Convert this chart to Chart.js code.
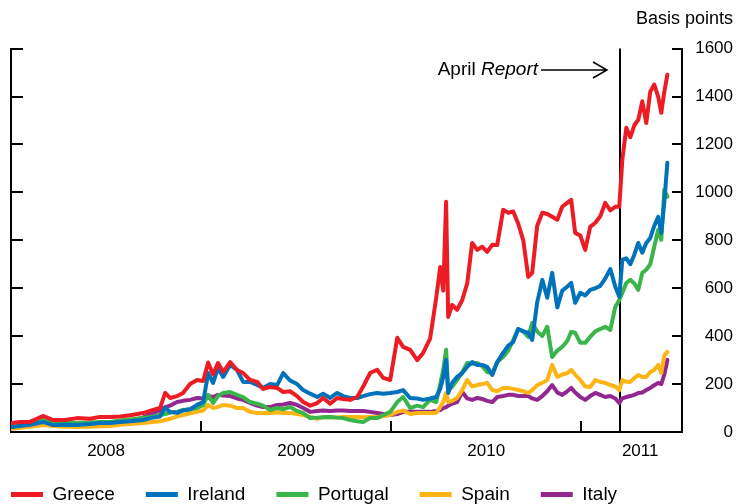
<!DOCTYPE html>
<html>
<head>
<meta charset="utf-8">
<script src="https://cdn.jsdelivr.net/npm/chart.js@4.4.1/dist/chart.umd.min.js"></script>
<style>
html, body { margin: 0; padding: 0; background: #fff; }
#wrap { width: 736px; height: 504px; }
</style>
</head>
<body>
<div id="wrap"><canvas id="spreads"></canvas></div>
<script>
// dates as fractional years
const dates = [
  2008.005, 2008.047, 2008.100, 2008.168, 2008.221, 2008.284, 2008.347, 2008.416, 2008.468, 2008.521,
  2008.574, 2008.626, 2008.695, 2008.747, 2008.784, 2008.811, 2008.837, 2008.874, 2008.905, 2008.942,
  2008.979, 2009.011, 2009.037, 2009.063, 2009.089, 2009.116, 2009.153, 2009.189, 2009.221, 2009.258,
  2009.295, 2009.326, 2009.363, 2009.400, 2009.432, 2009.468, 2009.505, 2009.537, 2009.574, 2009.611,
  2009.642, 2009.679, 2009.716, 2009.747, 2009.784, 2009.821, 2009.853, 2009.889, 2009.926, 2009.958,
  2009.995, 2010.032, 2010.063, 2010.100, 2010.137, 2010.168, 2010.205, 2010.237, 2010.258, 2010.274,
  2010.289, 2010.300, 2010.321, 2010.347, 2010.374, 2010.400, 2010.426, 2010.453, 2010.479, 2010.505,
  2010.532, 2010.558, 2010.589, 2010.616, 2010.642, 2010.668, 2010.695, 2010.721, 2010.742, 2010.768,
  2010.795, 2010.821, 2010.847, 2010.874, 2010.900, 2010.926, 2010.947, 2010.968, 2010.995, 2011.021,
  2011.047, 2011.074, 2011.100, 2011.126, 2011.153, 2011.179, 2011.200, 2011.216, 2011.237, 2011.258,
  2011.279, 2011.300, 2011.321, 2011.342, 2011.363, 2011.384, 2011.405, 2011.421, 2011.437, 2011.453
];

const greece = [
  38, 42, 42, 67, 50, 50, 58, 55, 63, 63,
  65, 70, 79, 92, 100, 163, 142, 150, 163, 200,
  217, 213, 290, 240, 288, 250, 292, 259, 246, 217,
  209, 180, 188, 184, 167, 170, 150, 125, 110, 121,
  142, 118, 142, 138, 134, 146, 190, 246, 260, 226,
  217, 393, 355, 343, 300, 330, 390, 560, 689, 590,
  961, 480, 530, 510, 551, 620, 789, 760, 773, 752,
  781, 780, 927, 915, 920, 870, 800, 647, 664, 860,
  915, 910, 898, 886, 940, 956, 969, 831, 820, 760,
  856, 873, 900, 956, 925, 940, 940, 1136, 1270, 1230,
  1280, 1303, 1380, 1290, 1420, 1450, 1399, 1332, 1420, 1491
];
const ireland = [
  21, 25, 30, 42, 29, 30, 29, 33, 38, 38,
  42, 45, 50, 60, 65, 100, 84, 80, 90, 95,
  113, 125, 246, 205, 267, 230, 280, 259, 209, 209,
  196, 184, 200, 196, 246, 215, 200, 175, 160, 146,
  160, 142, 163, 150, 142, 142, 150, 158, 163, 160,
  163, 167, 175, 142, 140, 134, 140, 146, 180, 230,
  301, 163, 205, 230, 246, 272, 292, 280, 280, 272,
  238, 292, 330, 360, 375, 430, 420, 414, 384, 540,
  635, 560, 664, 520, 590, 606, 622, 539, 581, 570,
  593, 600, 610, 640, 680, 606, 564, 718, 725, 700,
  740, 789, 748, 789, 810, 860, 898, 831, 960, 1124
];
const portugal = [
  25, 30, 35, 50, 42, 40, 38, 40, 42, 42,
  48, 52, 58, 65, 71, 75, 80, 84, 92, 95,
  100, 113, 155, 121, 150, 163, 167, 155, 146, 125,
  118, 110, 92, 100, 95, 104, 88, 79, 58, 60,
  62, 63, 60, 58, 50, 45, 42, 58, 58, 71,
  84, 125, 146, 100, 110, 104, 134, 125, 200, 260,
  343, 175, 190, 217, 250, 288, 285, 288, 275, 250,
  246, 292, 313, 340, 384, 430, 420, 397, 455, 420,
  400, 439, 313, 340, 355, 380, 418, 414, 372, 372,
  397, 420, 430, 439, 426, 522, 551, 580, 622, 635,
  620, 593, 664, 677, 700, 773, 844, 802, 1011, 982
];
const spain = [
  13, 18, 22, 29, 25, 22, 21, 22, 24, 25,
  30, 33, 38, 42, 45, 50, 55, 65, 71, 78,
  84, 90, 113, 100, 105, 113, 110, 100, 100, 84,
  79, 79, 79, 82, 79, 79, 75, 71, 63, 55,
  62, 63, 60, 63, 63, 63, 62, 63, 63, 66,
  71, 84, 90, 75, 79, 79, 79, 80, 104, 125,
  163, 125, 130, 142, 175, 217, 190, 196, 200, 205,
  175, 170, 184, 184, 180, 175, 170, 163, 175, 195,
  205, 217, 280, 230, 240, 246, 259, 240, 217, 190,
  188, 217, 209, 205, 196, 190, 175, 217, 210, 209,
  225, 238, 230, 230, 250, 259, 280, 246, 320, 334
];
const italy = [
  20, 25, 28, 38, 32, 30, 30, 32, 35, 36,
  42, 48, 60, 79, 90, 104, 110, 125, 130, 134,
  142, 140, 150, 146, 155, 152, 150, 140, 134, 121,
  110, 104, 104, 113, 115, 121, 113, 100, 84, 88,
  90, 88, 90, 90, 88, 88, 88, 84, 79, 75,
  71, 75, 84, 84, 84, 84, 84, 88, 92, 100,
  104, 110, 118, 125, 167, 140, 134, 142, 138, 130,
  125, 146, 150, 155, 155, 150, 150, 150, 140, 134,
  150, 170, 196, 165, 155, 170, 184, 165, 146, 134,
  150, 163, 155, 146, 150, 140, 121, 140, 146, 150,
  155, 163, 165, 175, 184, 195, 205, 200, 240, 301
];

const yearLabels = ["2008", "2009", "2010", "2011"];
const yearLabelAt = [2008.5, 2009.5, 2010.5, 2011.31];
const yearBreaks = [2009, 2010, 2011];
const yTicks = [0, 200, 400, 600, 800, 1000, 1200, 1400, 1600];
const reportDate = 2011.205;
const reportLevel = 1510;

Chart.defaults.font.family = "'Liberation Sans', Arial, sans-serif";
Chart.defaults.color = "#000";

const pts = (vals) => vals.map((v, i) => ({ x: dates[i], y: v }));

function line(label, vals, color) {
  return {
    label: label,
    data: pts(vals),
    borderColor: color,
    backgroundColor: color,
    borderWidth: 4,
    pointRadius: 0,
    tension: 0,
    borderJoinStyle: "round",
    borderCapStyle: "round",
  };
}

// inward ticks on the frame + the report line
const frame = {
  id: "frame",
  beforeDatasetsDraw(chart) {
    const { ctx, chartArea: a, scales } = chart;
    ctx.save();
    ctx.strokeStyle = "#000";
    ctx.lineWidth = 2;
    ctx.beginPath();
    yTicks.forEach((v) => {
      const py = Math.round(scales.y.getPixelForValue(v));
      ctx.moveTo(a.left, py);
      ctx.lineTo(a.left + 12, py);
      ctx.moveTo(a.right, py);
      ctx.lineTo(a.right - 10, py);
    });
    yearBreaks.forEach((v) => {
      const px = Math.round(scales.x.getPixelForValue(v));
      ctx.moveTo(px, a.bottom);
      ctx.lineTo(px, a.bottom - 11);
    });
    const lx = Math.round(scales.x.getPixelForValue(reportDate));
    ctx.moveTo(lx, a.top);
    ctx.lineTo(lx, a.bottom);
    ctx.stroke();
    ctx.restore();
  },
  afterDatasetsDraw(chart) {
    const { ctx, scales } = chart;
    const lx = Math.round(scales.x.getPixelForValue(reportDate));
    const ly = Math.round(scales.y.getPixelForValue(reportLevel));
    ctx.save();
    ctx.fillStyle = "#000";
    ctx.strokeStyle = "#000";
    ctx.textBaseline = "middle";
    ctx.textAlign = "right";
    const textRight = lx - 82;
    ctx.font = "italic 19px 'Liberation Sans', Arial, sans-serif";
    const w = ctx.measureText("Report").width;
    ctx.fillText("Report", textRight, ly);
    ctx.font = "19px 'Liberation Sans', Arial, sans-serif";
    ctx.fillText("April ", textRight - w, ly);
    ctx.lineWidth = 1.5;
    ctx.beginPath();
    ctx.moveTo(textRight + 3, ly);
    ctx.lineTo(lx - 13, ly);
    ctx.moveTo(lx - 27, ly - 8);
    ctx.lineTo(lx - 13, ly);
    ctx.lineTo(lx - 27, ly + 8);
    ctx.stroke();
    ctx.restore();
  },
};

// legend starts flush left, item gaps come from labels.padding
const legendShift = {
  id: "legendShift",
  afterLayout(chart) {
    const lg = chart.legend;
    lg.left -= lg.options.labels.padding;
    lg.top -= 8;
    lg.bottom -= 8;
  },
};

new Chart(document.getElementById("spreads"), {
  type: "line",
  data: {
    datasets: [
      line("Greece", greece, "#ED1C24"),
      line("Ireland", ireland, "#0072BC"),
      line("Portugal", portugal, "#3AB54A"),
      line("Spain", spain, "#FDB515"),
      line("Italy", italy, "#92278F"),
    ],
  },
  options: {
    responsive: true,
    maintainAspectRatio: false,
    animation: false,
    devicePixelRatio: 1,
    layout: { padding: { top: 0, right: 3, bottom: -18, left: 11 } },
    scales: {
      x: {
        type: "linear",
        min: 2008,
        max: 2011.53,
        afterBuildTicks: (s) => {
          s.ticks = yearLabelAt.map((v) => ({ value: v }));
        },
        afterFit: (s) => {
          s.height = 30;
        },
        ticks: {
          autoSkip: false,
          maxRotation: 0,
          padding: 9,
          font: { size: 17 },
          callback: (v, i) => yearLabels[i],
        },
        grid: { display: false, drawTicks: false },
        border: { display: true, color: "#000", width: 2 },
      },
      yLeft: {
        type: "linear",
        position: "left",
        min: 0,
        max: 1600,
        ticks: { display: false },
        grid: { display: false, drawTicks: false },
        border: { display: true, color: "#000", width: 2 },
      },
      y: {
        type: "linear",
        position: "right",
        min: 0,
        max: 1600,
        afterBuildTicks: (s) => {
          s.ticks = yTicks.map((v) => ({ value: v }));
        },
        afterFit: (s) => {
          s.width = 51;
        },
        ticks: {
          crossAlign: "far",
          padding: 13,
          font: { size: 17 },
          callback: (v) => String(v),
        },
        grid: { display: false, drawTicks: false },
        border: { display: true, color: "#000", width: 2 },
      },
    },
    plugins: {
      title: {
        display: true,
        text: "Basis points",
        align: "end",
        color: "#000",
        font: { size: 18, weight: "normal" },
        padding: { top: 8, bottom: 19 },
      },
      legend: {
        position: "bottom",
        align: "start",
        labels: {
          boxWidth: 32,
          boxHeight: 5,
          padding: 31,
          color: "#000",
          font: { size: 19 },
          generateLabels: (chart) =>
            Chart.defaults.plugins.legend.labels
              .generateLabels(chart)
              .map((l) => ({ ...l, lineWidth: 0 })),
        },
      },
      tooltip: { enabled: false },
    },
  },
  plugins: [frame, legendShift],
});
</script>
</body>
</html>
